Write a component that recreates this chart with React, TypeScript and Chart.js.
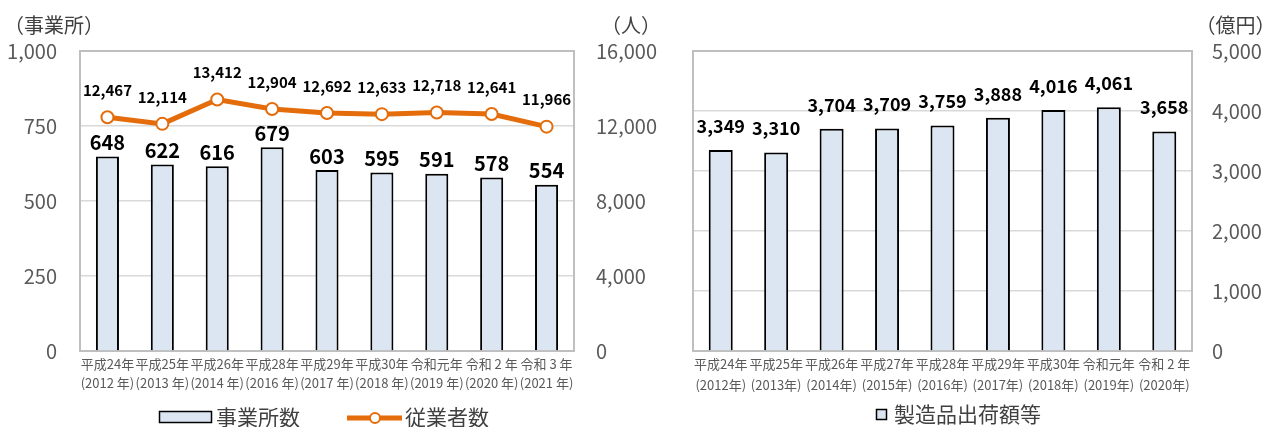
import React, { useEffect, useRef } from 'react';
import { Chart, registerables } from 'chart.js';

Chart.register(...registerables);

const FONT = "'Noto Sans CJK JP', 'Noto Sans', sans-serif";

const leftCategories: string[][] = [
  ['平成24年', '(2012 年)'],
  ['平成25年', '(2013 年)'],
  ['平成26年', '(2014 年)'],
  ['平成28年', '(2016 年)'],
  ['平成29年', '(2017 年)'],
  ['平成30年', '(2018 年)'],
  ['令和元年', '(2019 年)'],
  ['令和 2 年', '(2020 年)'],
  ['令和 3 年', '(2021 年)'],
];
const establishments = [648, 622, 616, 679, 603, 595, 591, 578, 554];
const employees = [12467, 12114, 13412, 12904, 12692, 12633, 12718, 12641, 11966];

const rightCategories: string[][] = [
  ['平成24年', '(2012年)'],
  ['平成25年', '(2013年)'],
  ['平成26年', '(2014年)'],
  ['平成27年', '(2015年)'],
  ['平成28年', '(2016年)'],
  ['平成29年', '(2017年)'],
  ['平成30年', '(2018年)'],
  ['令和元年', '(2019年)'],
  ['令和 2 年', '(2020年)'],
];
const shipments = [3349, 3310, 3704, 3709, 3759, 3888, 4016, 4061, 3658];

const leftAxisMax = 1000;
const leftAxisStep = 250;
const rightAxisMax = 16000;
const rightAxisStep = 4000;
const shipAxisMax = 5000;
const shipAxisStep = 1000;

const BAR_FILL = '#DCE6F2';
const ORANGE = '#E46C0A';
const TICK_COLOR = '#595959';
const TEXT_COLOR = '#404040';
const GRID = '#D9D9D9';
const FRAME = '#BFBFBF';

const fmt = (v: number) => Number(v).toLocaleString('en-US');

function frameAndLabels(opts: {
  barOffset: number;
  barFont: number;
  lineOffset?: number;
  lineFont?: number;
  extra: (ctx: CanvasRenderingContext2D) => void;
}) {
  return {
    id: 'frameAndLabels',
    beforeDatasetsDraw(chart: any) {
      const { ctx, chartArea } = chart;
      ctx.save();
      ctx.strokeStyle = FRAME;
      ctx.lineWidth = 2;
      ctx.strokeRect(chartArea.left, chartArea.top, chartArea.right - chartArea.left, chartArea.bottom - chartArea.top);
      ctx.restore();
    },
    afterDatasetsDraw(chart: any) {
      const { ctx } = chart;
      ctx.save();
      ctx.fillStyle = '#000';
      ctx.textAlign = 'center';
      ctx.textBaseline = 'middle';
      chart.data.datasets.forEach((ds: any, i: number) => {
        const meta = chart.getDatasetMeta(i);
        const isLine = ds.type === 'line';
        const size = isLine ? opts.lineFont : opts.barFont;
        const off = isLine ? opts.lineOffset : opts.barOffset;
        ctx.font = `bold ${size}px ${FONT}`;
        meta.data.forEach((el: any, j: number) => {
          ctx.fillText(fmt(ds.data[j]), el.x, el.y - (off as number));
        });
      });
      ctx.restore();
    },
    afterDraw(chart: any) {
      const { ctx } = chart;
      ctx.save();
      opts.extra(ctx);
      ctx.restore();
    },
  };
}

function LeftChart() {
  const ref = useRef<HTMLCanvasElement>(null);
  useEffect(() => {
    const chart = new Chart(ref.current as HTMLCanvasElement, {
      type: 'bar',
      data: {
        labels: leftCategories,
        datasets: [
          {
            type: 'line',
            label: '従業者数',
            data: employees,
            yAxisID: 'y1',
            borderColor: ORANGE,
            borderWidth: 5,
            pointRadius: 6,
            pointBorderWidth: 2,
            pointBackgroundColor: '#FFFFFF',
            pointBorderColor: ORANGE,
            tension: 0,
            order: 0,
          } as any,
          {
            type: 'bar',
            label: '事業所数',
            data: establishments,
            yAxisID: 'y',
            backgroundColor: BAR_FILL,
            borderColor: '#000000',
            borderWidth: 2,
            categoryPercentage: 1,
            barPercentage: 0.42,
            order: 1,
          } as any,
        ],
      },
      options: {
        responsive: false,
        animation: false,
        layout: { padding: { top: 51, bottom: 31, left: 0, right: 0 } },
        plugins: { legend: { display: false }, tooltip: { enabled: false } },
        scales: {
          x: {
            grid: { display: false, drawTicks: false },
            border: { display: false },
            ticks: {
              color: TICK_COLOR,
              font: { size: 13, family: FONT, lineHeight: 1.46 },
              padding: 3.5,
              maxRotation: 0,
              minRotation: 0,
              autoSkip: false,
            },
            afterFit: (s: any) => { s.height = 45; },
          },
          y: {
            position: 'left',
            min: 0,
            max: leftAxisMax,
            grid: { color: GRID, lineWidth: 1.5, drawTicks: false },
            border: { display: false },
            ticks: {
              stepSize: leftAxisStep,
              padding: 23,
              color: TICK_COLOR,
              font: { size: 20, family: FONT },
              callback: (v: any) => fmt(v),
            },
            afterFit: (s: any) => { s.width = 80; },
          },
          y1: {
            position: 'right',
            min: 0,
            max: rightAxisMax,
            grid: { drawOnChartArea: false, drawTicks: false },
            border: { display: false },
            ticks: {
              stepSize: rightAxisStep,
              padding: 22,
              color: TICK_COLOR,
              font: { size: 20, family: FONT },
              callback: (v: any) => fmt(v),
            },
            afterFit: (s: any) => { s.width = 91; },
          },
        },
      } as any,
      plugins: [
        frameAndLabels({
          barOffset: 14,
          barFont: 20,
          lineOffset: 27,
          lineFont: 15,
          extra: (ctx) => {
            ctx.fillStyle = TEXT_COLOR;
            ctx.font = `20px ${FONT}`;
            ctx.textAlign = 'center';
            ctx.textBaseline = 'middle';
            ctx.fillText('（事業所）', 54, 25);
            ctx.fillText('（人）', 631, 25);
            // legend: bars
            ctx.fillStyle = BAR_FILL;
            ctx.fillRect(159.5, 411.5, 52, 11);
            ctx.strokeStyle = '#000';
            ctx.lineWidth = 1.5;
            ctx.strokeRect(159.5, 411.5, 52, 11);
            ctx.fillStyle = TEXT_COLOR;
            ctx.font = `21px ${FONT}`;
            ctx.textAlign = 'left';
            ctx.fillText('事業所数', 216, 417);
            // legend: line
            ctx.strokeStyle = ORANGE;
            ctx.lineWidth = 5;
            ctx.beginPath();
            ctx.moveTo(347, 418);
            ctx.lineTo(402, 418);
            ctx.stroke();
            ctx.beginPath();
            ctx.arc(375, 418, 5, 0, Math.PI * 2);
            ctx.fillStyle = '#FFFFFF';
            ctx.fill();
            ctx.lineWidth = 2;
            ctx.stroke();
            ctx.fillStyle = TEXT_COLOR;
            ctx.fillText('従業者数', 405, 417);
          },
        }) as any,
      ],
    });
    return () => chart.destroy();
  }, []);
  return (
    <canvas
      ref={ref}
      width={665}
      height={427}
      style={{ position: 'absolute', left: 0, top: 0, width: 665, height: 427 }}
    />
  );
}

function RightChart() {
  const ref = useRef<HTMLCanvasElement>(null);
  useEffect(() => {
    const chart = new Chart(ref.current as HTMLCanvasElement, {
      type: 'bar',
      data: {
        labels: rightCategories,
        datasets: [
          {
            type: 'bar',
            label: '製造品出荷額等',
            data: shipments,
            backgroundColor: BAR_FILL,
            borderColor: '#000000',
            borderWidth: 2,
            categoryPercentage: 1,
            barPercentage: 0.433,
          } as any,
        ],
      },
      options: {
        responsive: false,
        animation: false,
        layout: { padding: { top: 51, bottom: 31, left: 28, right: 0 } },
        plugins: { legend: { display: false }, tooltip: { enabled: false } },
        scales: {
          x: {
            grid: { display: false, drawTicks: false },
            border: { display: false },
            ticks: {
              color: TICK_COLOR,
              font: { size: 13, family: FONT, lineHeight: 1.6 },
              padding: 2.5,
              maxRotation: 0,
              minRotation: 0,
              autoSkip: false,
            },
            afterFit: (s: any) => { s.height = 45; },
          },
          y: {
            position: 'right',
            min: 0,
            max: shipAxisMax,
            grid: { color: GRID, lineWidth: 1.5, drawTicks: false },
            border: { display: false },
            ticks: {
              stepSize: shipAxisStep,
              padding: 20,
              color: TICK_COLOR,
              font: { size: 20, family: FONT },
              callback: (v: any) => fmt(v),
            },
            afterFit: (s: any) => { s.width = 85; },
          },
        },
      } as any,
      plugins: [
        frameAndLabels({
          barOffset: 24,
          barFont: 18,
          extra: (ctx) => {
            ctx.fillStyle = TEXT_COLOR;
            ctx.font = `20px ${FONT}`;
            ctx.textAlign = 'center';
            ctx.textBaseline = 'middle';
            ctx.fillText('（億円）', 570.5, 25);
            ctx.fillStyle = BAR_FILL;
            ctx.fillRect(211.5, 409.5, 10, 10);
            ctx.strokeStyle = '#000';
            ctx.lineWidth = 1.5;
            ctx.strokeRect(211.5, 409.5, 10, 10);
            ctx.fillStyle = TEXT_COLOR;
            ctx.font = `21px ${FONT}`;
            ctx.textAlign = 'left';
            ctx.fillText('製造品出荷額等', 229, 414);
          },
        }) as any,
      ],
    });
    return () => chart.destroy();
  }, []);
  return (
    <canvas
      ref={ref}
      width={612}
      height={427}
      style={{ position: 'absolute', left: 665, top: 0, width: 612, height: 427 }}
    />
  );
}

export default function App() {
  return (
    <div
      style={{
        position: 'fixed',
        left: 0,
        top: 0,
        width: 1277,
        height: 427,
        background: '#FFFFFF',
        overflow: 'hidden',
      }}
    >
      <LeftChart />
      <RightChart />
    </div>
  );
}
